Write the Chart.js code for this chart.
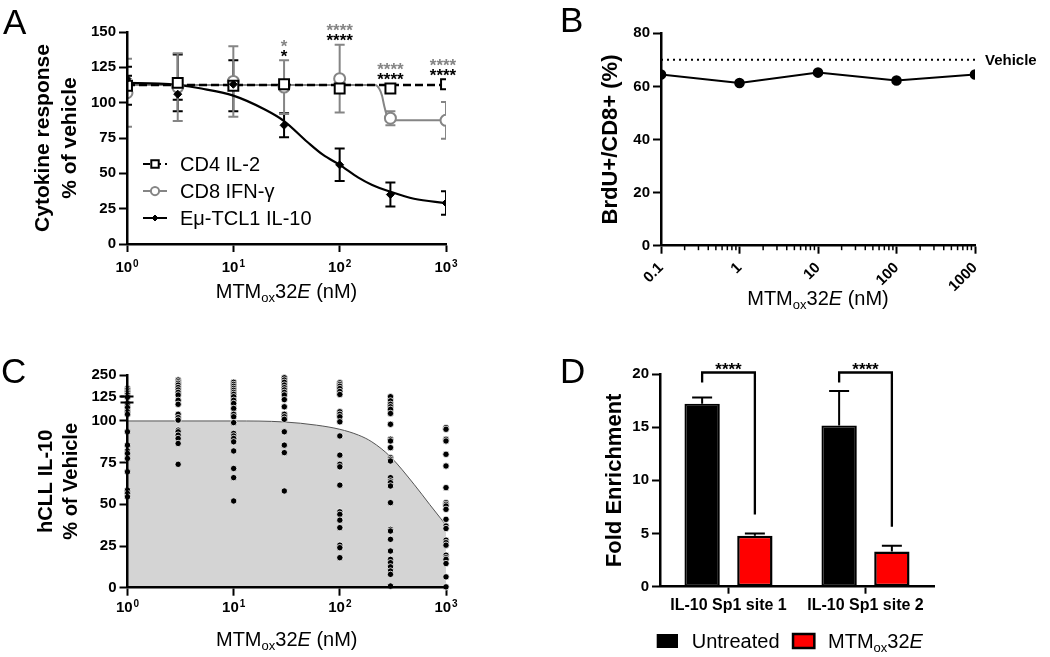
<!DOCTYPE html>
<html>
<head>
<meta charset="utf-8">
<script src="https://cdn.jsdelivr.net/npm/chart.js@4.4.1/dist/chart.umd.min.js"></script>
<style>
    html, body {margin: 0; padding: 0; background: #fff}
    #page {position: relative; width: 1050px; height: 657px; overflow: hidden; font-family: 'Liberation Sans', Arial, sans-serif}
    #page canvas {position: absolute}
    .tag {position: absolute; font-size: 35px; line-height: 35px; color: #000}
</style>
</head>
<body>
<div id="page">
    <canvas id="chartA" width="520" height="320" style="left:0;top:0"></canvas>
    <canvas id="chartB" width="530" height="320" style="left:520px;top:0"></canvas>
    <canvas id="chartC" width="520" height="327" style="left:0;top:330px"></canvas>
    <canvas id="chartD" width="530" height="327" style="left:520px;top:330px"></canvas>
    <div class="tag" style="left:3px;top:4px">A</div>
    <div class="tag" style="left:560px;top:2px">B</div>
    <div class="tag" style="left:1px;top:353px">C</div>
    <div class="tag" style="left:560px;top:353px">D</div>
</div>
<script>
// A: cytokine response (% of vehicle), mean ± SD
const doseA = [1, 3, 10, 30, 100, 300, 1000]
const cd4Mean = [112, 114, 112, 113, 110, 110, 113]
const cd4Sd = [13.5, 20, 18, 3, 3, 2, 2]
const cd8Mean = [107, 111, 115, 111, 117, 89, 87.5]
const cd8Sd = [24, 24, 25, 19, 24, 5, 13]
const tclMean = [117, 106, 113, 84, 56, 35, 29]
const tclSd = [2, 4, 4, 8.5, 11.5, 8.5, 8.3]
// fitted curves
const tclFitX = [1, 2, 3, 5, 10, 20, 30, 50, 70, 100, 150, 200, 300, 500, 1000]
const tclFitY = [114, 113.5, 112.5, 110, 105, 95, 87, 72, 63, 56, 47, 42, 37, 32, 29]
const cd4FitX = [1, 1000]
const cd4FitY = [112.5, 112.5]
const cd8FitX = [1, 215, 235, 250, 262, 275, 295, 330, 1000]
const cd8FitY = [112.5, 112.5, 110, 105, 98, 92, 88.5, 87.5, 87.5]
const sigDoseA = [30, 100, 300, 1000]
const sigCd8 = ['*', '****', '****', '****']
const sigTcl = ['*', '****', '****', '****']
const decadeTicks = [1, 10, 100, 1000]
const decadeExp = ['0', '1', '2', '3']

// B: BrdU+/CD8+ (%)
const doseB = [0.1, 1, 10, 100, 1000]
const doseLabelsB = ['0.1', '1', '10', '100', '1000']
const brduPct = [64.5, 61.3, 65.2, 62.2, 64.5]
const vehiclePct = 70

// C: hCLL IL-10 (% of vehicle), one array per dose
const doseC = [1, 3, 10, 30, 100, 300, 1000]
const hcll1 = [173, 164, 154, 145, 135, 122, 110.5, 109.5, 108, 105.5, 104, 93.5, 85.5, 82, 80.5, 77.5, 69.5, 58.5, 56.5, 54.5]
const hcll3 = [221, 211, 202, 192, 178, 164, 150, 135, 113, 110, 104, 102, 100.5, 94.5, 93.5, 91.5, 89.5, 86.5, 74]
const hcll10 = [208, 196, 185, 173, 162, 150, 139, 125, 113, 110.5, 107.5, 104, 102.5, 99, 92.5, 91, 89.5, 87.5, 82, 71.5, 66, 52]
const hcll30 = [234, 221, 208, 192, 177, 164, 150, 135, 114, 108.5, 104, 102.5, 101, 93.5, 85.5, 81, 58]
const hcll100 = [205, 195, 185, 172, 155, 138, 105.5, 104, 102.5, 99.5, 91, 79.5, 74, 72.5, 61.5, 45.5, 44, 40.5, 36, 25.5, 24, 18]
const hcll300 = [125, 112, 110, 108.5, 107, 104.5, 98, 89, 88, 84, 78, 77, 76, 66, 64, 63, 61, 51, 35, 34, 29, 22, 17, 15, 12.5, 10, 8, 1]
const hcll1000 = [96, 95, 89, 88, 80, 73, 60, 51, 50, 49, 47, 41, 37, 35.5, 28.5, 27, 25.5, 19.5, 18, 17, 14.5, 6.5, 0.5]
const hcllFitX = [1, 10, 30, 60, 100, 150, 200, 300, 500, 700, 1000]
const hcllFitY = [100, 100, 99.4, 97.5, 95, 91.5, 87.5, 78.5, 62, 50, 37.5]
const yTicksC = [0, 25, 50, 75, 100, 125, 250]

// D: fold enrichment, mean + SEM
const sites = ['IL-10 Sp1 site 1', 'IL-10 Sp1 site 2']
const untreated = [17.2, 15.15]
const untreatedSem = [0.6, 3.25]
const treated = [4.8, 3.3]
const treatedSem = [0.2, 0.56]
const sigD = ['****', '****']

const FONT = "'Liberation Sans', Arial, sans-serif"
const GRAY = '#858585'
const tickFont = {family: FONT, size: 15, weight: 'bold'}

Chart.defaults.font.family = FONT
Chart.defaults.color = '#000'
Chart.defaults.animation = false
Chart.defaults.events = []
Chart.defaults.plugins.legend.display = false
Chart.defaults.plugins.tooltip.enabled = false

const pts = (xs, ys) => xs.map((x, i) => ({x: x, y: ys[i]}))

function axis(opts) { // black GraphPad style axis, ticks outside
    const ticks = Object.assign({color: '#000', font: tickFont, padding: 3, autoSkip: false}, opts.ticks || {})
    return Object.assign({
        border: {color: '#000', width: 2.5, z: 1},
        grid: {drawOnChartArea: false, drawTicks: true, tickLength: 8, tickWidth: 2, tickColor: '#000'}
    }, opts, {ticks: ticks})
}

function drawDrug(ctx, x, baseline, size, align, tail) { // MTMox32E with subscript + italic
    const parts = [['MTM', 1, 0, ''], ['ox', 0.65, 0.2, ''], ['32', 1, 0, ''], ['E', 1, 0, 'italic '], [tail, 1, 0, '']]
    const font = p => p[3] + (size * p[1]) + 'px ' + FONT
    let w = 0
    parts.forEach(p => { ctx.font = font(p); w += ctx.measureText(p[0]).width })
    let cx = align === 'center' ? x - w / 2 : x
    ctx.textAlign = 'left'
    ctx.textBaseline = 'alphabetic'
    parts.forEach(p => {
        ctx.font = font(p)
        ctx.fillText(p[0], cx, baseline + size * p[2])
        cx += ctx.measureText(p[0]).width
    })
}

function powerTicks(baseline) { // 10^n labels under the log x axis
    return {
        id: 'powerTicks',
        afterDraw(chart) {
            const {ctx, scales: {x}} = chart
            ctx.save()
            ctx.fillStyle = '#000'
            ctx.textAlign = 'left'
            ctx.textBaseline = 'alphabetic'
            x.ticks.forEach((t, i) => {
                const px = x.getPixelForTick(i)
                ctx.font = 'bold 15px ' + FONT
                const wb = ctx.measureText('10').width
                ctx.font = 'bold 10px ' + FONT
                const we = ctx.measureText(decadeExp[i]).width
                const left = px - (wb + 1 + we) / 2
                ctx.fillText(decadeExp[i], left + wb + 1, baseline - 5.4)
                ctx.font = 'bold 15px ' + FONT
                ctx.fillText('10', left, baseline)
            })
            ctx.restore()
        }
    }
}

const errorBars = { // dataset.errorBars holds SD/SEM array
    id: 'errorBars',
    beforeDatasetsDraw(chart) {
        const {ctx, chartArea, scales} = chart
        ctx.save()
        ctx.beginPath()
        ctx.rect(chartArea.left, 0, chartArea.width, chart.height)
        ctx.clip()
        chart.data.datasets.forEach((ds, i) => {
            if (!ds.errorBars) return
            const meta = chart.getDatasetMeta(i)
            ctx.strokeStyle = ds.errorColor || ds.borderColor
            ctx.lineWidth = 2
            meta.data.forEach((el, j) => {
                const v = typeof ds.data[j] === 'object' ? ds.data[j].y : ds.data[j]
                const e = ds.errorBars[j]
                const yTop = scales.y.getPixelForValue(v + e)
                const yBot = ds.upOnly ? scales.y.getPixelForValue(v) : scales.y.getPixelForValue(v - e)
                const cap = ds.capWidth / 2
                ctx.beginPath()
                ctx.moveTo(el.x, yTop); ctx.lineTo(el.x, yBot)
                ctx.moveTo(el.x - cap, yTop); ctx.lineTo(el.x + cap, yTop)
                if (!ds.upOnly) { ctx.moveTo(el.x - cap, yBot); ctx.lineTo(el.x + cap, yBot) }
                ctx.stroke()
            })
        })
        ctx.restore()
    }
}

// ---------- A
new Chart(document.getElementById('chartA'), {
    type: 'line',
    data: {datasets: [
        {label: 'Eμ-TCL1 IL-10', data: pts(doseA, tclMean), showLine: false, pointStyle: 'rectRot', pointRadius: 4,
            backgroundColor: '#000', borderColor: '#000', pointBorderWidth: 1, errorBars: tclSd, capWidth: 10, legendRow: 2},
        {label: 'CD4 IL-2', data: pts(doseA, cd4Mean), showLine: false, pointStyle: 'rect', pointRadius: 7,
            backgroundColor: '#fff', borderColor: '#000', pointBorderWidth: 2, errorBars: cd4Sd, capWidth: 10, legendRow: 0, legendDash: [7, 4]},
        {label: 'CD8 IFN-γ', data: pts(doseA, cd8Mean), showLine: false, pointStyle: 'circle', pointRadius: 5.5,
            backgroundColor: '#fff', borderColor: GRAY, pointBorderWidth: 2, errorBars: cd8Sd, capWidth: 10, legendRow: 1},
        {data: pts(tclFitX, tclFitY), borderColor: '#000', borderWidth: 2.2, pointRadius: 0, cubicInterpolationMode: 'monotone'},
        {data: pts(cd4FitX, cd4FitY), borderColor: '#000', borderWidth: 2.5, borderDash: [8, 4], pointRadius: 0},
        {data: pts(cd8FitX, cd8FitY), borderColor: GRAY, borderWidth: 2, pointRadius: 0, cubicInterpolationMode: 'monotone'}
    ]},
    options: {
        responsive: false,
        layout: {padding: {left: 0, top: 32, right: 74, bottom: 0}},
        scales: {
            x: axis({type: 'logarithmic', min: 1, max: 1000,
                afterBuildTicks: s => { s.ticks = decadeTicks.map(v => ({value: v})) },
                afterFit: s => { s.height = 76 },
                ticks: {callback: () => ''}}),
            y: axis({min: 0, max: 150, ticks: {stepSize: 25},
                afterFit: s => { s.width = 127 },
                title: {display: true, text: ['Cytokine response', '% of vehicle'],
                    font: {family: FONT, size: 21, weight: 'bold', lineHeight: 1.29}, padding: {top: 29.5, bottom: 0}}})
        }
    },
    plugins: [errorBars, powerTicks(272), {
        id: 'extrasA',
        afterDatasetsDraw(chart) {
            const {ctx, chartArea, scales: {x, y}} = chart
            ctx.save()
            ctx.font = 'bold 17px ' + FONT
            ctx.textAlign = 'center'
            ctx.textBaseline = 'alphabetic'
            sigDoseA.forEach((d, i) => {
                const j = doseA.indexOf(d)
                const top = Math.min(
                    y.getPixelForValue(cd4Mean[j] + cd4Sd[j]), y.getPixelForValue(cd4Mean[j]) - 5,
                    y.getPixelForValue(cd8Mean[j] + cd8Sd[j]), y.getPixelForValue(tclMean[j] + tclSd[j]))
                const px = Math.min(x.getPixelForValue(d), chartArea.right - 3)
                ctx.fillStyle = '#000'
                ctx.fillText(sigTcl[i], px, top - 8 + 9.6)
                ctx.fillStyle = GRAY
                ctx.fillText(sigCd8[i], px, top - 18 + 9.6)
            })
            ctx.restore()
        },
        afterDraw(chart) {
            const {ctx, chartArea} = chart
            ctx.save()
            chart.data.datasets.forEach(ds => { // legend, bottom-left inside plot
                if (ds.legendRow === undefined) return
                const cy = chartArea.bottom - 80 + ds.legendRow * 27
                ctx.strokeStyle = ds.borderColor
                ctx.lineWidth = 2
                ctx.setLineDash(ds.legendDash || [])
                ctx.beginPath(); ctx.moveTo(143, cy); ctx.lineTo(167, cy); ctx.stroke()
                ctx.setLineDash([])
                ctx.fillStyle = ds.backgroundColor
                ctx.lineWidth = ds.pointBorderWidth
                Chart.helpers.drawPoint(ctx, {pointStyle: ds.pointStyle, radius: ds.pointRadius * 0.75, borderWidth: ds.pointBorderWidth}, 155, cy)
                ctx.fillStyle = '#000'
                ctx.font = '20px ' + FONT
                ctx.textAlign = 'left'
                ctx.textBaseline = 'alphabetic'
                ctx.fillText(ds.label, 180, cy + 7.2)
            })
            ctx.fillStyle = '#000'
            drawDrug(ctx, (chartArea.left + chartArea.right) / 2, 297.5, 20, 'center', ' (nM)')
            ctx.restore()
        }
    }]
})

// ---------- B
new Chart(document.getElementById('chartB'), {
    type: 'line',
    data: {datasets: [
        {data: pts(doseB, brduPct), borderColor: '#000', backgroundColor: '#000', borderWidth: 2, pointRadius: 4.3},
        {data: pts([doseB[0], doseB[doseB.length - 1]], [vehiclePct, vehiclePct]), borderColor: '#000', borderWidth: 2,
            borderDash: [2, 4], pointRadius: 0}
    ]},
    options: {
        responsive: false,
        layout: {padding: {left: 0, top: 33.3, right: 75, bottom: 0}},
        scales: {
            x: axis({type: 'logarithmic', min: doseB[0], max: doseB[doseB.length - 1],
                afterBuildTicks: s => { s.ticks = doseB.map(v => ({value: v})) },
                afterFit: s => { s.height = 74.3 },
                ticks: {padding: 5.4, minRotation: 45, maxRotation: 45, callback: (v, i) => doseLabelsB[i]}}),
            y: axis({min: 0, max: 80, ticks: {stepSize: 20},
                afterFit: s => { s.width = 141 },
                title: {display: true, text: 'BrdU+/CD8+ (%)', font: {family: FONT, size: 22, weight: 'bold'},
                    padding: {top: 77.5, bottom: 0}}})
        }
    },
    plugins: [{
        id: 'extrasB',
        afterDraw(chart) {
            const {ctx, chartArea, scales: {x, y}} = chart
            ctx.save()
            ctx.strokeStyle = '#000'
            ctx.lineWidth = 1.5
            for (let d = doseB[0]; d < doseB[doseB.length - 1]; d *= 10) { // minor log ticks
                for (let m = 2; m < 10; m++) {
                    const px = x.getPixelForValue(d * m)
                    ctx.beginPath(); ctx.moveTo(px, chartArea.bottom); ctx.lineTo(px, chartArea.bottom + 4.5); ctx.stroke()
                }
            }
            ctx.fillStyle = '#000'
            ctx.font = 'bold 15px ' + FONT
            ctx.textAlign = 'left'
            ctx.textBaseline = 'middle'
            ctx.fillText('Vehicle', chartArea.right + 10, y.getPixelForValue(vehiclePct) + 1)
            drawDrug(ctx, (chartArea.left + chartArea.right) / 2, 305, 20, 'center', ' (nM)')
            ctx.restore()
        }
    }]
})

// ---------- C, y axis with a break above 100
class BrokenScale extends Chart.LinearScale {
    getPixelForValue(value) {
        const o = this.options
        const h = this.bottom - this.top
        const pLow = this.bottom - h * o.lowFrac
        const pHigh = this.bottom - h * o.highFrac
        if (value <= o.breakLow) return this.bottom - (value - this.min) / (o.breakLow - this.min) * (this.bottom - pLow)
        if (value >= o.breakHigh) return pHigh - (value - o.breakHigh) / (this.max - o.breakHigh) * (pHigh - this.top)
        return pLow - (value - o.breakLow) / (o.breakHigh - o.breakLow) * (pLow - pHigh)
    }
}
BrokenScale.id = 'broken'
BrokenScale.defaults = Chart.LinearScale.defaults
Chart.register(BrokenScale)

const hcllCols = [hcll1, hcll3, hcll10, hcll30, hcll100, hcll300, hcll1000]
const hcllPts = []
hcllCols.forEach((col, i) => col.forEach(v => hcllPts.push({x: doseC[i], y: v})))

new Chart(document.getElementById('chartC'), {
    type: 'line',
    data: {datasets: [
        {data: hcllPts, showLine: false, pointRadius: 3.2, backgroundColor: '#000', borderColor: '#fff', pointBorderWidth: 0.8, clip: false},
        {data: pts(hcllFitX, hcllFitY), borderColor: '#555', borderWidth: 1, pointRadius: 0, cubicInterpolationMode: 'monotone',
            fill: 'origin', backgroundColor: '#d4d4d4'}
    ]},
    options: {
        responsive: false,
        layout: {padding: {left: 0, top: 45, right: 74, bottom: 0}},
        scales: {
            x: axis({type: 'logarithmic', min: 1, max: 1000,
                afterBuildTicks: s => { s.ticks = decadeTicks.map(v => ({value: v})) },
                afterFit: s => { s.height = 69.3 },
                ticks: {callback: () => ''}}),
            y: axis({type: 'broken', min: 0, max: 250, breakLow: 112, breakHigh: 116, lowFrac: 0.878, highFrac: 0.8905,
                afterBuildTicks: s => { s.ticks = yTicksC.map(v => ({value: v})) },
                afterFit: s => { s.width = 127.5 },
                title: {display: true, text: ['hCLL IL-10', '% of Vehicle'],
                    font: {family: FONT, size: 20, weight: 'bold', lineHeight: 1.25}, padding: {top: 34.2, bottom: 0}}})
        }
    },
    plugins: [powerTicks(282), {
        id: 'extrasC',
        afterDraw(chart) {
            const {ctx, chartArea, scales: {y}} = chart
            const o = y.options
            const mid = (y.getPixelForValue(o.breakLow) + y.getPixelForValue(o.breakHigh)) / 2
            ctx.save()
            ctx.strokeStyle = '#000'
            ctx.lineWidth = 2
            ctx.beginPath()
            ctx.moveTo(chartArea.left - 7, mid - 3); ctx.lineTo(chartArea.left + 6, mid - 3)
            ctx.moveTo(chartArea.left - 7, mid + 3); ctx.lineTo(chartArea.left + 6, mid + 3)
            ctx.stroke()
            ctx.fillStyle = '#000'
            drawDrug(ctx, (chartArea.left + chartArea.right) / 2, 315.5, 20, 'center', ' (nM)')
            ctx.restore()
        }
    }]
})

// ---------- D
new Chart(document.getElementById('chartD'), {
    type: 'bar',
    data: {labels: sites, datasets: [
        {label: 'Untreated', data: untreated, backgroundColor: '#000', borderColor: '#000', borderWidth: 2, borderSkipped: false,
            errorBars: untreatedSem, upOnly: true, capWidth: 20},
        {label: 'MTMox32E', data: treated, backgroundColor: '#ff0000', borderColor: '#000', borderWidth: 2.5, borderSkipped: false,
            errorBars: treatedSem, errorColor: '#000', upOnly: true, capWidth: 20}
    ]},
    options: {
        responsive: false,
        layout: {padding: {left: 0, top: 44, right: 116, bottom: 0}},
        datasets: {bar: {categoryPercentage: 0.77, barPercentage: 0.67}},
        scales: {
            x: axis({type: 'category', grid: {offset: false, drawOnChartArea: false, tickLength: 7, tickWidth: 2, tickColor: '#000'},
                afterFit: s => { s.height = 70.3 },
                ticks: {padding: 2, font: {family: FONT, size: 16, weight: 'bold'}}}),
            y: axis({min: 0, max: 20, ticks: {stepSize: 5},
                afterFit: s => { s.width = 140 },
                title: {display: true, text: 'Fold Enrichment', font: {family: FONT, size: 22, weight: 'bold'},
                    padding: {top: 81.8, bottom: 0}}})
        }
    },
    plugins: [errorBars, {
        id: 'extrasD',
        afterDraw(chart) {
            const {ctx, chartArea, scales: {y}} = chart
            const m0 = chart.getDatasetMeta(0), m1 = chart.getDatasetMeta(1)
            ctx.save()
            ctx.strokeStyle = '#000'
            ctx.lineWidth = 2.3
            ctx.fillStyle = '#000'
            ctx.font = 'bold 17px ' + FONT
            ctx.textAlign = 'center'
            sigD.forEach((s, i) => { // significance brackets
                const a = m0.data[i].x, b = m1.data[i].x
                const top = chartArea.top - 1.5
                const end = y.getPixelForValue(treated[i] + treatedSem[i]) - 19
                ctx.beginPath()
                ctx.moveTo(a, top + 10); ctx.lineTo(a, top); ctx.lineTo(b, top); ctx.lineTo(b, end)
                ctx.stroke()
                ctx.fillText(s, (a + b) / 2, top - 7 + 9.6)
            })
            // legend under the axis
            const ly = 304, x0 = 136.7
            ctx.fillStyle = '#000'
            ctx.fillRect(x0, ly, 21.3, 14)
            ctx.font = '20px ' + FONT
            ctx.textAlign = 'left'
            ctx.fillText(chart.data.datasets[0].label, x0 + 35, ly + 14.3)
            const x1 = x0 + 35 + ctx.measureText(chart.data.datasets[0].label).width + 13.5
            ctx.fillStyle = '#ff0000'
            ctx.fillRect(x1, ly, 21.3, 14)
            ctx.lineWidth = 2.5
            ctx.strokeRect(x1, ly, 21.3, 14)
            ctx.fillStyle = '#000'
            drawDrug(ctx, x1 + 35, ly + 14.3, 20, 'left', '')
            ctx.restore()
        }
    }]
})
</script>
</body>
</html>
